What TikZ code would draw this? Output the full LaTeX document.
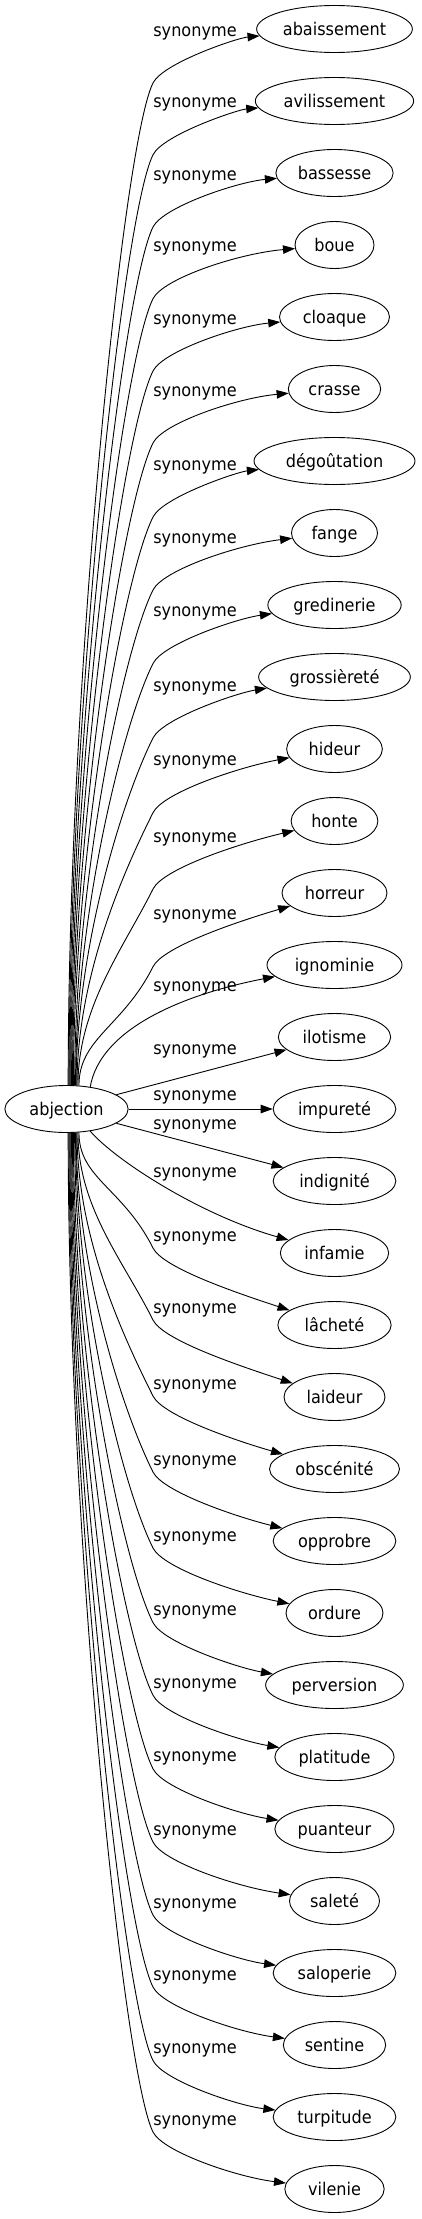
\documentclass[tikz,border=0pt]{standalone}
\usepackage{fontspec}
\setmainfont{DejaVu Sans}[FakeStretch=0.92]
\usetikzlibrary{shapes.geometric,arrows.meta}
\tikzset{
  base/.style={font=\fontsize{17.5pt}{21pt}\selectfont, text=black},
  tnode/.style={base, draw, ellipse, line width=0.9pt, inner sep=0pt, minimum height=47pt, text height=14pt, text depth=1.4pt},
  lab/.style={base, inner sep=0pt},
  syn/.style={draw, line width=0.9pt, -{Triangle[length=12pt,width=8.5pt]}},
}
\newcommand\tgt[4]{\node[tnode, minimum width=#3pt] (#1) at (334.5,#2) {#4};}
\newcommand\upedge[3]{%
  \pgfmathsetmacro\ya{#2+50}%
  \pgfmathsetmacro\yb{#2+5}%
  \pgfmathsetmacro\sx{66.5+#3}%
  \pgfmathtruncatemacro\sang{atan2(23.5*sqrt(1-(#3/61.5)^2),#3)+0.5}%
  \pgfmathsetmacro\ca{1086-0.4*(1086-\ya)}%
  \pgfmathsetmacro\cb{\ya+60}%
  \pgfmathsetmacro\cc{\ya-20}%
  \draw[syn] (abj.\sang) .. controls (\sx,\ca) and (123,\cb) .. (153,\ya) .. controls (163,\cc) and (237,\yb) .. (#1);%
}
\newcommand\loedge[3]{%
  \pgfmathsetmacro\ya{#2+10}%
  \pgfmathsetmacro\yb{#2+55}%
  \pgfmathsetmacro\sx{66.5+#3}%
  \pgfmathtruncatemacro\sang{360-atan2(23.5*sqrt(1-(#3/61.5)^2),#3)+0.5}%
  \pgfmathsetmacro\ca{1132+0.4*(\ya-1132)}%
  \pgfmathsetmacro\cb{\ya-60}%
  \pgfmathsetmacro\cc{\ya+20}%
  \draw[syn] (abj.\sang) .. controls (\sx,\ca) and (123,\cb) .. (153,\ya) .. controls (163,\cc) and (237,\yb) .. (#1);%
}
\begin{document}
\begin{tikzpicture}[x=1pt,y=-1pt]
\fill[white] (0,0) rectangle (421,2219);
\useasboundingbox (0,0) rectangle (421,2219);
\node[tnode, minimum width=123.3pt] (abj) at (66.5,1109) {abjection};
\tgt{t0}{29}{155.7}{abaissement}
\tgt{t1}{101}{158.3}{avilissement}
\tgt{t2}{173}{117.3}{bassesse}
\tgt{t3}{245}{79}{boue}
\tgt{t4}{317}{110}{cloaque}
\tgt{t5}{389}{92.3}{crasse}
\tgt{t6}{461}{161}{dégoûtation}
\tgt{t7}{533}{86}{fange}
\tgt{t8}{605}{133.3}{gredinerie}
\tgt{t9}{677}{151.7}{grossièreté}
\tgt{t10}{749}{95.7}{hideur}
\tgt{t11}{821}{86.7}{honte}
\tgt{t12}{893}{105}{horreur}
\tgt{t13}{965}{135}{ignominie}
\tgt{t14}{1037}{112.3}{ilotisme}
\tgt{t15}{1109}{122.7}{impureté}
\tgt{t16}{1181}{122.7}{indignité}
\tgt{t17}{1253}{108.3}{infamie}
\tgt{t18}{1325}{113.3}{lâcheté}
\tgt{t19}{1397}{101}{laideur}
\tgt{t20}{1469}{130}{obscénité}
\tgt{t21}{1541}{122.7}{opprobre}
\tgt{t22}{1613}{97}{ordure}
\tgt{t23}{1685}{137.7}{perversion}
\tgt{t24}{1757}{119.3}{platitude}
\tgt{t25}{1829}{119.3}{puanteur}
\tgt{t26}{1901}{90}{saleté}
\tgt{t27}{1973}{122.7}{saloperie}
\tgt{t28}{2045}{102.3}{sentine}
\tgt{t29}{2117}{122.7}{turpitude}
\tgt{t30}{2189}{99.3}{vilenie}
\foreach \n/\y in {0/33,1/104.8,2/177,3/248.7,4/321,5/393,6/467,7/540,8/613.5,9/688,10/762.7,11/839,12/916.7,13/988,14/1051.6,15/1097.5,16/1126,17/1174,18/1238,19/1310,20/1386,21/1462,22/1538,23/1612.6,24/1685.2,25/1758.8,26/1832,27/1905,28/1977,29/2050.5,30/2122}
  \node[lab] (l\n) at (195,\y) {synonyme};
\upedge{t0}{33}{1.5}
\upedge{t1}{104.8}{2.4}
\upedge{t2}{177}{3.3}
\upedge{t3}{248.7}{4.2}
\upedge{t4}{321}{5.1}
\upedge{t5}{393}{6.0}
\upedge{t6}{467}{6.9}
\upedge{t7}{540}{7.8}
\upedge{t8}{613.5}{8.7}
\upedge{t9}{688}{9.6}
\upedge{t10}{762.7}{10.5}
\upedge{t11}{839}{11.4}
\upedge{t12}{916.7}{12.3}
\draw[syn] (abj.43) .. controls (100,1030) and (180,995) .. (t13);
\draw[syn] (abj.16) -- (t14);
\draw[syn] (abj.east) -- (t15);
\draw[syn] (abj.344) -- (t16);
\draw[syn] (abj.317) .. controls (115,1160) and (200,1215) .. (t17);
\loedge{t18}{1238}{12.3}
\loedge{t19}{1310}{11.4}
\loedge{t20}{1386}{10.5}
\loedge{t21}{1462}{9.6}
\loedge{t22}{1538}{8.7}
\loedge{t23}{1612.6}{7.8}
\loedge{t24}{1685.2}{6.9}
\loedge{t25}{1758.8}{6.0}
\loedge{t26}{1832}{5.1}
\loedge{t27}{1905}{4.2}
\loedge{t28}{1977}{3.3}
\loedge{t29}{2050.5}{2.4}
\loedge{t30}{2122}{1.5}
\end{tikzpicture}
\end{document}
